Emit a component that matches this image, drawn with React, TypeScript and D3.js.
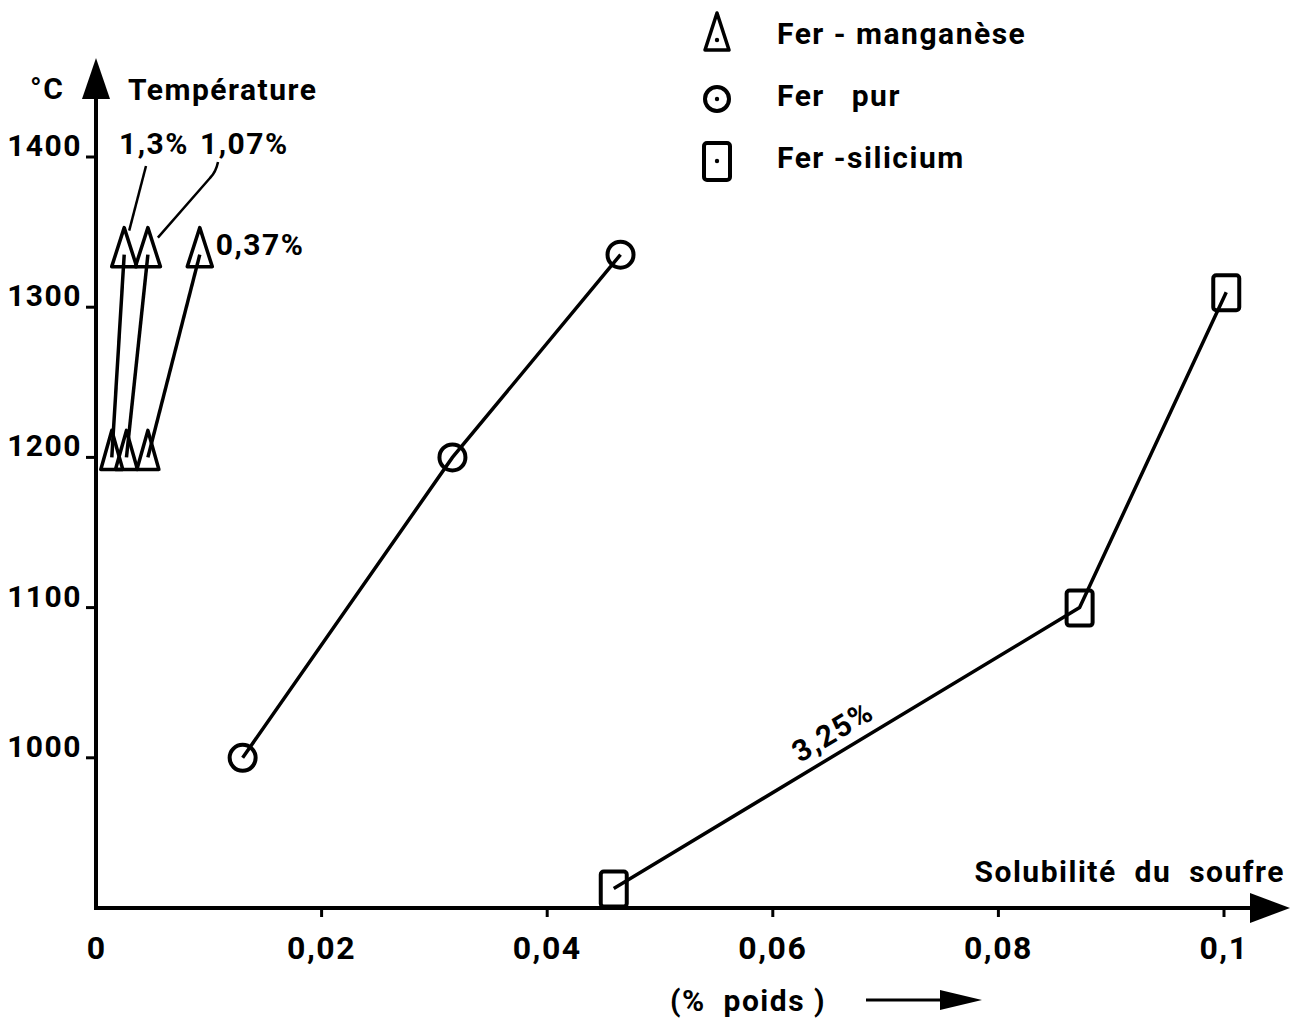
import React from 'react';
import * as d3 from 'd3';

// Fer-manganèse : teneur en Mn, solubilité à 1200 °C et à ~1335 °C
const manganeseContent = ['1,3%', '1,07%', '0,37%'];
const manganeseTemps = [1200, 1335];
const manganeseLow = [0.0014, 0.0027, 0.0046];
const manganeseHigh = [0.0025, 0.0046, 0.0092];

// Fer pur
const purSolubility = [0.013, 0.0316, 0.0465];
const purTemps = [1000, 1200, 1335];

// Fer-silicium (3,25 % Si)
const siliciumSolubility = [0.0459, 0.0872, 0.1002];
const siliciumTemps = [913, 1100, 1310];

const xTicks = [0.02, 0.04, 0.06, 0.08, 0.1];
const xTickLabels = ['0,02', '0,04', '0,06', '0,08', '0,1'];
const yTicks = [1000, 1100, 1200, 1300, 1400];

const legendItems = ['Fer - manganèse', 'Fer   pur', 'Fer -silicium'];

const W = 1296, H = 1021;
const x = d3.scaleLinear().domain([0, 0.1]).range([96, 1224]);
const y = d3.scaleLinear().domain([900, 1400]).range([908, 157]);

const line = d3.line<[number, number]>()
    .x(d => x(d[0]))
    .y(d => y(d[1]));

const tri = (cx: number, cy: number, w = 24) =>
    `M${cx},${cy - 27}L${cx + w / 2},${cy + 12}L${cx - w / 2},${cy + 12}Z`;

const rect = (cx: number, cy: number) => (
    <rect x={cx - 13} y={cy - 17} width={26} height={35} rx={3}
          fill="none" stroke="#000" strokeWidth={4} />
);

export default function App() {
    const ink = '#000';
    const x0 = x(0), yBase = y(900);

    const purPts = purSolubility.map((v, i) => [v, purTemps[i]] as [number, number]);
    const silPts = siliciumSolubility.map((v, i) => [v, siliciumTemps[i]] as [number, number]);

    // position du libellé 3,25 % le long du segment inférieur
    const sx0 = x(silPts[0][0]), sy0 = y(silPts[0][1]);
    const sx1 = x(silPts[1][0]), sy1 = y(silPts[1][1]);
    const ang = Math.atan2(sy1 - sy0, sx1 - sx0) * 180 / Math.PI;
    const mx = (sx0 + sx1) / 2 - 4, my = (sy0 + sy1) / 2;

    const topY = y(manganeseTemps[1]);
    const lbl = { fontSize: 30, letterSpacing: 1.5, style: { whiteSpace: 'pre' as const } };

    return (
        <div style={{ position: 'absolute', left: 0, top: 0 }}>
            <svg width={W} height={H} style={{ display: 'block', background: '#fff' }}
                 fontFamily="Roboto, sans-serif" fontWeight="bold" fill={ink}>

                {/* axe Y */}
                <line x1={x0} y1={yBase + 2} x2={x0} y2={95} stroke={ink} strokeWidth={4} />
                <path d={`M${x0},58L${x0 + 14},99L${x0 - 14},99Z`} fill={ink} />
                <text x={30} y={99} {...lbl}>°C</text>
                <text x={128} y={100} {...lbl}>Température</text>

                {yTicks.map(t => (
                    <g key={t}>
                        <line x1={x0 - 10} x2={x0} y1={y(t)} y2={y(t)} stroke={ink} strokeWidth={3} />
                        <text x={82} y={y(t) - 1} {...lbl} textAnchor="end">{t}</text>
                    </g>
                ))}

                {/* axe X */}
                <line x1={x0 - 2} y1={yBase} x2={1255} y2={yBase} stroke={ink} strokeWidth={4} />
                <path d={`M1290,${yBase}L1250,${yBase - 15}L1250,${yBase + 15}Z`} fill={ink} />
                {xTicks.map((t, i) => (
                    <g key={t}>
                        <line x1={x(t)} x2={x(t)} y1={yBase} y2={yBase + 9} stroke={ink} strokeWidth={3} />
                        <text x={x(t)} y={959} fontSize={32} letterSpacing={1.5} textAnchor="middle">{xTickLabels[i]}</text>
                    </g>
                ))}
                <text x={x0} y={959} fontSize={32} textAnchor="middle">0</text>
                <text x={1285} y={882} {...lbl} textAnchor="end">Solubilité  du  soufre</text>
                <text x={748} y={1011} {...lbl} textAnchor="middle">(%  poids )</text>
                <line x1={866} x2={945} y1={1000} y2={1000} stroke={ink} strokeWidth={3} />
                <path d="M982,1000L940,990L940,1010Z" fill={ink} />

                {/* Fer-manganèse */}
                {manganeseLow.map((v, i) => (
                    <g key={'mn' + i} fill="none" stroke={ink} strokeWidth={3.5} strokeLinejoin="round">
                        <path d={line([[v, manganeseTemps[0]], [manganeseHigh[i], manganeseTemps[1]]]) || ''} />
                        <path d={tri(x(v), y(manganeseTemps[0]), 22)} />
                        <path d={tri(x(manganeseHigh[i]), topY, 25)} />
                    </g>
                ))}
                <text x={119} y={154} {...lbl}>{manganeseContent[0]}</text>
                <text x={200} y={154} {...lbl}>{manganeseContent[1]}</text>
                <text x={x(manganeseHigh[2]) + 16} y={topY} {...lbl}>{manganeseContent[2]}</text>
                <path d={`M146,166L${x(manganeseHigh[0]) + 5},${topY - 24}`} stroke={ink} strokeWidth={2.5} fill="none" />
                <path d={`M218,162Q216,172 210,178L${x(manganeseHigh[1]) + 10},${topY - 17}`} stroke={ink} strokeWidth={2.5} fill="none" />

                {/* Fer pur */}
                <path d={line(purPts) || ''} fill="none" stroke={ink} strokeWidth={3.5} />
                {purPts.map((p, i) => (
                    <circle key={'p' + i} cx={x(p[0])} cy={y(p[1])} r={13}
                            fill="none" stroke={ink} strokeWidth={4} />
                ))}

                {/* Fer-silicium */}
                <path d={line(silPts) || ''} fill="none" stroke={ink} strokeWidth={3.5} />
                {silPts.map((p, i) => <g key={'s' + i}>{rect(x(p[0]), y(p[1]))}</g>)}
                <text x={mx} y={my} {...lbl} textAnchor="middle"
                      transform={`rotate(${ang},${mx},${my}) translate(0,-9)`}>3,25%</text>

                {/* légende */}
                <g>
                    <path d="M717,13L729,50L705,50Z" fill="none" stroke={ink} strokeWidth={3.5} strokeLinejoin="round" />
                    <circle cx={717} cy={40} r={2.2} />
                    <circle cx={717} cy={99} r={12} fill="none" stroke={ink} strokeWidth={4} />
                    <circle cx={717} cy={99} r={2.2} />
                    <rect x={704} y={143} width={26} height={37} rx={3} fill="none" stroke={ink} strokeWidth={4} />
                    <circle cx={717} cy={161} r={2.2} />
                    {legendItems.map((s, i) => (
                        <text key={s} x={777} y={44 + i * 62} {...lbl}>{s}</text>
                    ))}
                </g>
            </svg>
        </div>
    );
}
